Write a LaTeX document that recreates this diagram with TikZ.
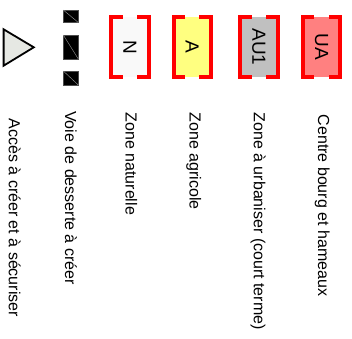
\documentclass[tikz,border=0pt]{standalone}
\usepackage{fontspec}
\setmainfont{Liberation Sans}
\definecolor{nfill}{HTML}{F9F9F9}
\definecolor{afill}{HTML}{FFFF80}
\definecolor{aufill}{HTML}{C0C0C0}
\definecolor{uafill}{HTML}{FF8080}
\definecolor{trifill}{HTML}{E6E8E3}
\begin{document}
\begin{tikzpicture}[x=1pt,y=-1pt,
  legtext/.style={rotate=-90, anchor=base west, inner sep=0pt, font=\fontsize{16}{19}\selectfont},
  zonebox/.style={minimum width=37pt, minimum height=60pt, inner sep=0pt, font=\fontsize{19}{22}\selectfont},
  bracket/.style={draw=red, line width=4pt, line join=miter},
  roadseg/.style={fill=black, draw=black!70, line width=0.4pt},
  roaddiag/.style={draw=gray!80, line width=0.4pt}]
\useasboundingbox (0,0) rectangle (352,338);
% access triangle
\filldraw[fill=trifill, draw=black, line width=1.8pt, line join=miter] (3.6,29.3) -- (33.8,47.3) -- (3.6,65.7) -- cycle;
% road segments
\filldraw[roadseg] (63.3,10) rectangle (78.3,22.5);
\draw[roaddiag] (63.3,10) -- (78.3,22.5);
\filldraw[roadseg] (63.3,35) rectangle (78.3,59);
\draw[roaddiag] (63.3,35) -- (78.3,59);
\filldraw[roadseg] (63.3,71) rectangle (78.3,85);
\draw[roaddiag] (63.3,71) -- (78.3,85);
% zone boxes
\node[zonebox, fill=nfill] (N) at (130,47) {\rotatebox{-90}{N}};
\node[zonebox, fill=afill] (A) at (192.2,47) {\rotatebox{-90}{A}};
\node[zonebox, fill=aufill] (AU) at (258.8,47) {\rotatebox{-90}{AU1}};
\node[zonebox, fill=uafill] (UA) at (321.6,47) {\rotatebox{-90}{UA}};
\foreach \b in {N,A,AU,UA}{
  \draw[bracket] ([xshift=11.5pt]\b.north west) -- (\b.north west) -- (\b.south west) -- ([xshift=11.5pt]\b.south west);
  \draw[bracket] ([xshift=-11.5pt]\b.north east) -- (\b.north east) -- (\b.south east) -- ([xshift=-11.5pt]\b.south east);
}
% legend texts
\node[legtext] (t1) at (8.8,118.5) {Accès à créer et à sécuriser};
\node[legtext] (t2) at (65.2,111) {Voie de desserte à créer};
\node[legtext] (t3) at (125.6,112.5) {Zone naturelle};
\node[legtext] (t4) at (189.5,112.5) {Zone agricole};
\node[legtext] (t5) at (253.8,112.5) {Zone à urbaniser (court terme)};
\node[legtext] (t6) at (318.2,114.5) {Centre bourg et hameaux};
\end{tikzpicture}
\end{document}
